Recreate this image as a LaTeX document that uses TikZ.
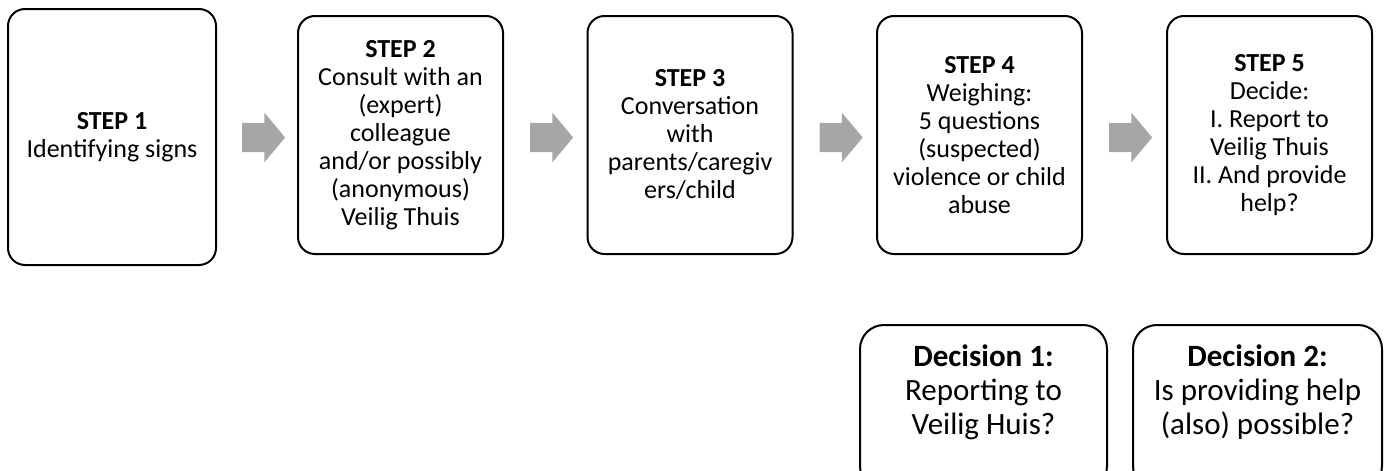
\documentclass[tikz,border=0pt]{standalone}
\usepackage{fontspec}
\setmainfont{Carlito}
\usetikzlibrary{shapes.arrows}

\begin{document}
\begin{tikzpicture}[
    x=1pt, y=-1pt,
    stepbox/.style={draw, line width=2pt, rounded corners=17pt,
                    minimum width=205pt, minimum height=238pt,
                    align=center, font=\fontsize{26}{28}\selectfont},
    decbox/.style={draw, line width=2pt, rounded corners=24pt,
                   minimum width=247pt, minimum height=165pt},
    dectext/.style={align=center, font=\fontsize{31}{34}\selectfont},
    blockarrow/.style={single arrow, fill=black!35, draw=none,
                       minimum height=43pt, inner xsep=0pt, inner ysep=14.5pt,
                       single arrow head extend=10pt, single arrow tip angle=100}
]
  \useasboundingbox (0,0) rectangle (1385,471);

  % Steps
  \node[stepbox, minimum width=208pt, minimum height=256pt] (s1) at (112, 137)
       {\textbf{STEP 1}\\Identifying signs};
  \node[stepbox] (s2) at (400.5, 135)
       {\textbf{STEP 2}\\Consult with an\\(expert)\\colleague\\and/or possibly\\(anonymous)\\Veilig Thuis};
  \node[stepbox] (s3) at (690, 135)
       {\textbf{STEP 3}\\Conversation\\with\\parents/caregiv\\ers/child};
  \node[stepbox] (s4) at (979.5, 135)
       {\textbf{STEP 4}\\Weighing:\\5 questions\\(suspected)\\violence or child\\abuse};
  \node[stepbox] (s5) at (1269.5, 135)
       {\textbf{STEP 5}\\Decide:\\I. Report to\\Veilig Thuis\\II. And provide\\help?};

  % Arrows between steps
  \node[blockarrow] (a12) at (257.5, 137.5) {};
  \node[blockarrow] (a23) at (545.5, 137.5) {};
  \node[blockarrow] (a34) at (835, 137.5) {};
  \node[blockarrow] (a45) at (1124.5, 137.5) {};

  % Decisions
  \node[decbox] (d1) at (983.5, 407.5) {};
  \node[dectext] (d1text) at (983.5, 392) {\textbf{Decision 1:}\\Reporting to\\Veilig Huis?};
  \node[decbox, minimum width=249pt] (d2) at (1257.5, 407.5) {};
  \node[dectext] (d2text) at (1257.5, 392) {\textbf{Decision 2:}\\Is providing help\\(also) possible?};
\end{tikzpicture}
\end{document}
